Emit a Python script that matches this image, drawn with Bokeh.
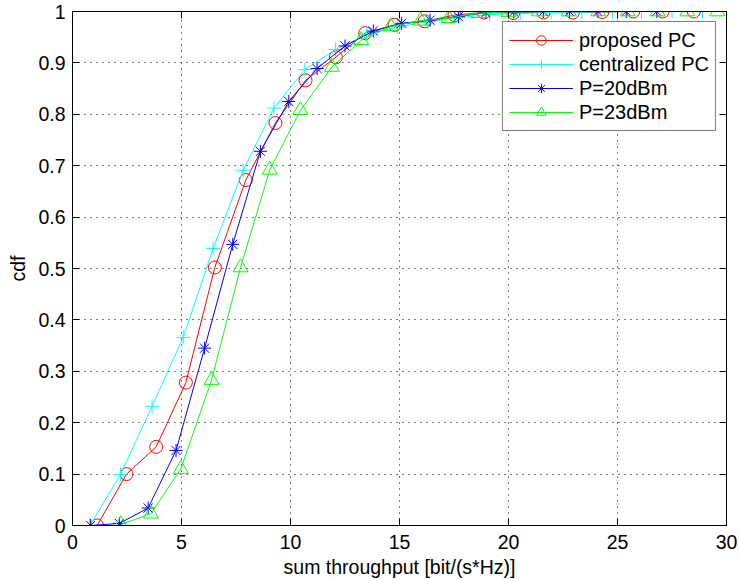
from bokeh.plotting import figure
from bokeh.models import (LinearAxis, Legend, LegendItem, FixedTicker, Range1d,
                          CustomLabelingPolicy)
from bokeh.embed import file_html
from bokeh.resources import INLINE

# ---- data ----
x_ticks = [0, 5, 10, 15, 20, 25, 30]
y_ticks = [0, 0.1, 0.2, 0.3, 0.4, 0.5, 0.6, 0.7, 0.8, 0.9, 1]
y_tick_labels = ["0", "0.1", "0.2", "0.3", "0.4", "0.5", "0.6", "0.7", "0.8", "0.9", "1"]

proposed_x = [1.13, 2.48, 3.84, 5.20, 6.53, 7.95, 9.31, 10.69, 12.08, 13.43, 14.78,
              16.15, 17.52, 18.87, 20.22, 21.6, 22.95, 24.3, 25.72, 27.07, 28.5]
proposed_y = [0.0, 0.100, 0.153, 0.278, 0.502, 0.672, 0.783, 0.866, 0.911, 0.958, 0.974,
              0.981, 0.993, 0.998, 0.997, 0.998, 0.998, 0.999, 1.0, 1.0, 1.0]

central_x = [0.80, 2.2, 3.65, 5.08, 6.45, 7.83, 9.24, 10.66, 12.06, 13.49, 14.9,
             16.31, 17.72, 19.13, 20.54, 21.95, 23.36, 24.77, 26.1, 27.5, 28.9]
central_y = [0.0, 0.099, 0.232, 0.366, 0.539, 0.691, 0.812, 0.887, 0.926, 0.955, 0.970,
             0.980, 0.988, 0.994, 0.997, 0.998, 0.999, 1.0, 1.0, 1.0, 1.0]

p20_x = [0.83, 2.15, 3.47, 4.75, 6.06, 7.35, 8.62, 9.92, 11.22, 12.5, 13.8,
         15.1, 16.4, 17.7, 18.96, 20.24, 21.6, 22.8, 24.1, 25.4, 26.8]
p20_y = [0.0, 0.004, 0.034, 0.146, 0.345, 0.547, 0.728, 0.825, 0.889, 0.933, 0.962,
         0.977, 0.983, 0.990, 0.998, 0.999, 1.0, 1.0, 1.0, 1.0, 1.0]

p23_x = [2.22, 3.60, 4.97, 6.38, 7.71, 9.05, 10.46, 11.9, 13.24, 14.6, 15.97,
         17.26, 18.63, 20.0, 21.4, 22.77, 24.12, 25.47, 26.84, 28.2, 29.58]
p23_y = [0.002, 0.023, 0.110, 0.283, 0.502, 0.692, 0.808, 0.892, 0.944, 0.971, 0.982,
         0.987, 0.997, 0.999, 1.0, 1.0, 1.0, 1.0, 1.0, 1.0, 1.0]

FONT = "Liberation Sans"
TICK_FS = "19.5px"

p = figure(width=739, height=580, x_range=Range1d(0, 30), y_range=Range1d(0, 1),
           output_backend="svg", toolbar_location=None,
           min_border_left=72, min_border_right=13, min_border_top=11, min_border_bottom=40)
p.outline_line_color = "black"
p.outline_line_width = 1
p.background_fill_color = "white"

xt = FixedTicker(ticks=x_ticks)
yt = FixedTicker(ticks=y_ticks)

for ax in (p.xaxis[0], p.yaxis[0]):
    ax.axis_line_color = "black"
    ax.major_tick_line_color = "black"
    ax.major_tick_in = 7
    ax.major_tick_out = 0
    ax.minor_tick_line_color = None
    ax.major_label_text_font = FONT
    ax.major_label_text_font_size = TICK_FS
    ax.major_label_text_color = "black"
    ax.axis_label_text_font = FONT
    ax.axis_label_text_font_size = TICK_FS
    ax.axis_label_text_font_style = "normal"
    ax.axis_label_text_color = "black"

p.xaxis[0].ticker = xt
p.yaxis[0].ticker = yt
p.yaxis[0].major_label_overrides = {t: s for t, s in zip(y_ticks, y_tick_labels)}
p.xaxis[0].axis_label = "sum throughput [bit/(s*Hz)]"
p.yaxis[0].axis_label = "cdf"
p.xaxis[0].major_label_standoff = 9
p.xaxis[0].axis_label_standoff = 4
p.yaxis[0].major_label_standoff = 7
p.yaxis[0].axis_label_standoff = 6

no_labels = CustomLabelingPolicy(code="return []")
top_ax = LinearAxis(ticker=xt, major_label_text_font_size="0px", major_tick_in=7,
                    major_tick_out=0, major_label_standoff=0, minor_tick_line_color=None,
                    axis_line_color="black", major_tick_line_color="black",
                    major_label_policy=no_labels)
right_ax = LinearAxis(ticker=yt, major_label_text_font_size="0px", major_tick_in=7,
                      major_tick_out=0, major_label_standoff=0, minor_tick_line_color=None,
                      axis_line_color="black", major_tick_line_color="black",
                      major_label_policy=no_labels)
p.add_layout(top_ax, "above")
p.add_layout(right_ax, "right")

for g in (p.xgrid[0], p.ygrid[0]):
    g.grid_line_color = "black"
    g.grid_line_dash = "1 5"
    g.grid_line_alpha = 1.0
    g.grid_line_width = 1
p.xgrid[0].ticker = xt
p.ygrid[0].ticker = yt

series = [
    ("proposed PC", proposed_x, proposed_y, "#ff0000", "circle", 13),
    ("centralized PC", central_x, central_y, "#00ffff", "cross", 14),
    ("P=20dBm", p20_x, p20_y, "#0000ff", "asterisk", 13),
    ("P=23dBm", p23_x, p23_y, "#00ff00", "triangle", 15),
]

items = []
for label, xs, ys, col, mk, sz in series:
    ln = p.line(xs, ys, line_color=col, line_width=1)
    sc = p.scatter(xs, ys, marker=mk, size=sz, line_color=col, fill_color=None, line_width=1)
    items.append(LegendItem(label=label, renderers=[ln, sc]))

legend = Legend(items=items, location="top_right", margin=10, padding=6, spacing=0,
                glyph_width=64, glyph_height=24, label_height=24, label_standoff=6,
                label_text_font=FONT, label_text_font_size="20px", label_text_color="black",
                border_line_color="black", border_line_width=1,
                background_fill_color="white", background_fill_alpha=1)
p.add_layout(legend)

open("out.html", "w").write(file_html(p, INLINE))
